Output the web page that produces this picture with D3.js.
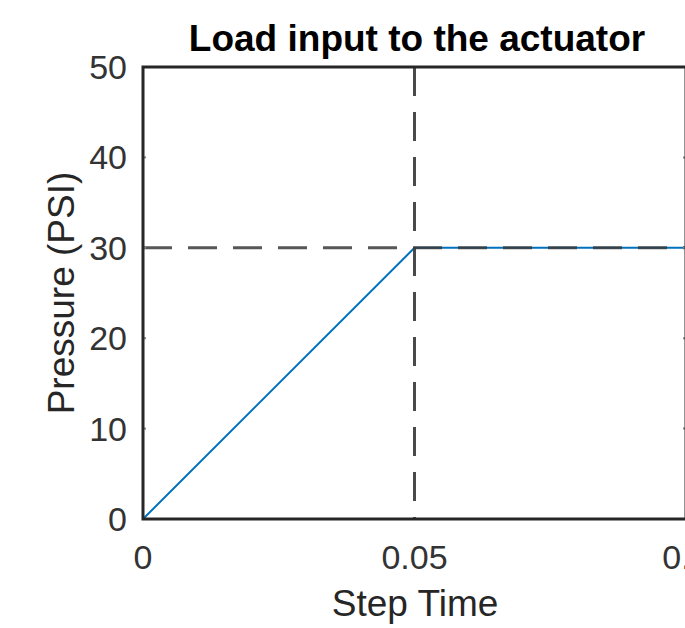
<!DOCTYPE html>
<html lang="en">
<head>
  <meta charset="UTF-8">
  <title>Load input to the actuator</title>
  <script src="https://d3js.org/d3.v7.min.js"></script>
  <style>
    body { margin: 0; background: #fff; }
    svg { display: block; font-family: "Liberation Sans", Arial, sans-serif; }
    .tick-label { font-size: 34px; fill: #333; }
    .axis-title { font-size: 37px; fill: #262626; }
    .chart-title { font-size: 37px; font-weight: bold; fill: #000; }
  </style>
</head>
<body>
  <svg width="685" height="628"></svg>

  <script>
    // data
    const stepTime = [0, 0.05, 0.1];
    const pressure = [0, 30, 30];
    const xTicks = [0, 0.05, 0.1];
    const xTickLabels = ["0", "0.05", "0.1"];
    const yTicks = [0, 10, 20, 30, 40, 50];
    const refTime = 0.05;      // vertical dashed guide
    const refPressure = 30;    // horizontal dashed guide

    const width = 685;
    const height = 628;
    const plotLeft = 143, plotRight = 686, plotTop = 67, plotBottom = 519;

    const svg = d3.select("svg");

    const x = d3.scaleLinear().domain([0, 0.1]).range([plotLeft, plotRight]);
    const y = d3.scaleLinear().domain([0, 50]).range([plotBottom, plotTop]);

    svg.append("rect").attr("width", width).attr("height", height).attr("fill", "#fff");

    // signal
    const line = d3.line()
      .x((d, i) => x(stepTime[i]))
      .y(d => y(d));

    svg.append("path")
      .datum(pressure)
      .attr("d", line)
      .attr("fill", "none")
      .attr("stroke", "#0072BD")
      .attr("stroke-width", 2);

    // dashed guides
    svg.append("line")
      .attr("x1", x(refTime)).attr("x2", x(refTime))
      .attr("y1", y(50)).attr("y2", y(0))
      .attr("stroke", "#4a4a4a")
      .attr("stroke-width", 3)
      .attr("stroke-dasharray", "29,16");

    svg.append("line")
      .attr("x1", x(0)).attr("x2", x(0.1))
      .attr("y1", y(refPressure)).attr("y2", y(refPressure))
      .attr("stroke", "#3a3a3a")
      .attr("stroke-opacity", 0.85)
      .attr("stroke-width", 3)
      .attr("stroke-dasharray", "29,16");

    // small inward ticks, left and right
    const tickLen = 3;
    svg.append("g").selectAll("line")
      .data(yTicks)
      .enter().append("line")
      .attr("x1", plotLeft).attr("x2", plotLeft + tickLen)
      .attr("y1", d => y(d)).attr("y2", d => y(d))
      .attr("stroke", "#888").attr("stroke-width", 2);
    svg.append("g").selectAll("line")
      .data(yTicks)
      .enter().append("line")
      .attr("x1", plotRight - tickLen).attr("x2", plotRight)
      .attr("y1", d => y(d)).attr("y2", d => y(d))
      .attr("stroke", "#888").attr("stroke-width", 2);

    // axes box
    svg.append("rect")
      .attr("x", plotLeft).attr("y", plotTop)
      .attr("width", plotRight - plotLeft).attr("height", plotBottom - plotTop)
      .attr("fill", "none")
      .attr("stroke", "#262626")
      .attr("stroke-width", 3);

    // tick labels
    svg.append("g").selectAll("text")
      .data(yTicks)
      .enter().append("text")
      .attr("class", "tick-label")
      .attr("x", plotLeft - 16)
      .attr("y", d => y(d) + 12)
      .attr("text-anchor", "end")
      .text(d => d);

    // last label is cut by the right edge, as in the original
    svg.append("g").selectAll("text")
      .data(xTicks)
      .enter().append("text")
      .attr("class", "tick-label")
      .attr("x", d => x(d))
      .attr("y", 569)
      .attr("text-anchor", "middle")
      .text((d, i) => xTickLabels[i]);

    // titles
    svg.append("text")
      .attr("class", "chart-title")
      .attr("x", 417).attr("y", 51)
      .attr("text-anchor", "middle")
      .text("Load input to the actuator");

    svg.append("text")
      .attr("class", "axis-title")
      .attr("x", 415).attr("y", 616)
      .attr("text-anchor", "middle")
      .text("Step Time");

    svg.append("text")
      .attr("class", "axis-title")
      .attr("transform", `translate(74,${(plotTop + plotBottom) / 2}) rotate(-90)`)
      .attr("text-anchor", "middle")
      .text("Pressure (PSI)");
  </script>
</body>
</html>
